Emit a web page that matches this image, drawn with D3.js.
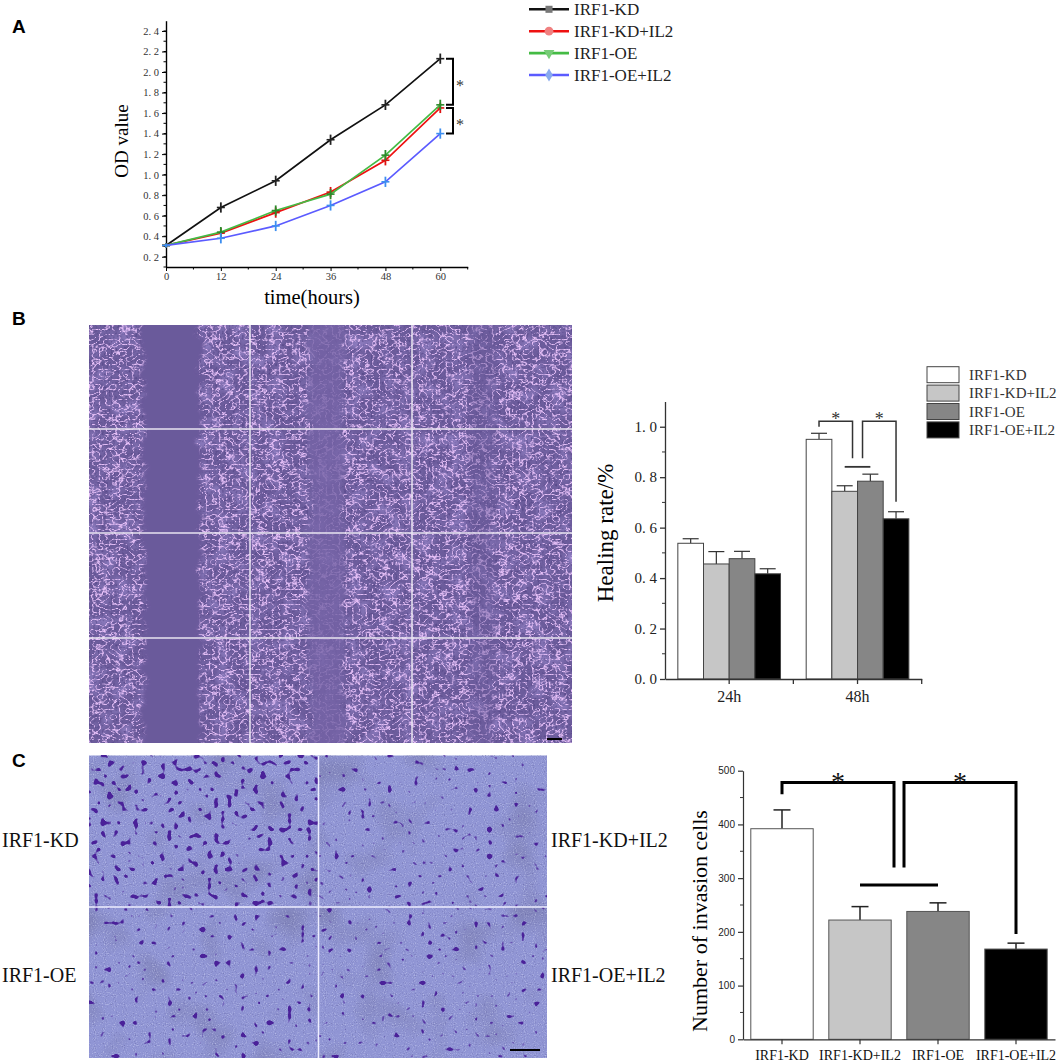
<!DOCTYPE html>
<html>
<head>
<meta charset="utf-8">
<title>IRF1 proliferation, migration and invasion</title>
<script src="https://cdn.jsdelivr.net/npm/d3@7"></script>
<style>
  body { margin: 0; background: #fff; }
  svg { display: block; }
</style>
</head>
<body>
<div id="fig"></div>
<script>
// ---- data ----
var groups = ["IRF1-KD", "IRF1-KD+IL2", "IRF1-OE", "IRF1-OE+IL2"];

// A: CCK-8 OD values
var timeHours = [0, 12, 24, 36, 48, 60];
var odKD     = [0.31, 0.68, 0.94, 1.34, 1.68, 2.13];
var odKDIL2  = [0.31, 0.43, 0.63, 0.83, 1.14, 1.65];
var odOE     = [0.31, 0.44, 0.65, 0.81, 1.19, 1.68];
var odOEIL2  = [0.31, 0.38, 0.50, 0.70, 0.93, 1.40];
var odErr    = [0.02, 0.05, 0.05, 0.05, 0.05, 0.05];
var odTicks  = [0.2, 0.4, 0.6, 0.8, 1.0, 1.2, 1.4, 1.6, 1.8, 2.0, 2.2, 2.4];

// B: healing rate
var healTimes = ["24h", "48h"];
var heal24    = [0.538, 0.456, 0.477, 0.417];
var heal24Err = [0.018, 0.049, 0.029, 0.020];
var heal48    = [0.950, 0.744, 0.784, 0.635];
var heal48Err = [0.024, 0.022, 0.028, 0.028];
var healTicks = [0.0, 0.2, 0.4, 0.6, 0.8, 1.0];

// C: invasion cell counts
var invasion    = [392, 222, 238, 168];
var invasionErr = [35, 25, 16, 11];
var invTicks    = [0, 100, 200, 300, 400, 500];

var barFill = ["#ffffff", "#c6c6c6", "#868686", "#000000"];

var SERIF = "'Liberation Serif', 'DejaVu Serif', serif";
var SANS = "'Liberation Sans', Arial, sans-serif";
// "2. 4" style of the original tick labels
var spaced = function(d) { return d.toFixed(1).replace(".", ". "); };

var svg = d3.select("#fig").append("svg")
    .attr("width", 1059).attr("height", 1062);
var defs = svg.append("defs");

// panel letters
[["A", 33], ["B", 325], ["C", 767]].forEach(function(p) {
    svg.append("text").attr("x", 12).attr("y", p[1])
        .style("font-family", SANS).attr("font-weight", "bold").attr("font-size", 19)
        .text(p[0]);
});

// =================== A ===================
var xA = d3.scaleLinear().domain([0, 66]).range([166, 467.7]);
var yA = d3.scaleLinear().domain([0.1, 2.5]).range([267, 20.7]);
var gA = svg.append("g");

gA.append("g")
    .attr("transform", "translate(" + xA(0) + ",0)")
    .call(d3.axisLeft(yA).tickValues(odTicks).tickSize(4).tickSizeOuter(0).tickFormat(spaced))
    .call(function(g) {
        g.select(".domain").attr("stroke-width", 1.4);
        g.selectAll("text").style("font-family", SERIF).attr("font-size", 10.5).attr("fill", "#333");
    });
gA.append("g").selectAll("line")
    .data(d3.range(1, 25).map(function(i) { return i * 0.1; }))
    .join("line")
    .attr("x1", xA(0)).attr("x2", xA(0) - 2.5)
    .attr("y1", function(d) { return yA(d); }).attr("y2", function(d) { return yA(d); })
    .attr("stroke", "#000");

gA.append("g")
    .attr("transform", "translate(0," + yA(0.1) + ")")
    .call(d3.axisBottom(xA).tickValues(timeHours).tickSize(4).tickSizeOuter(0))
    .call(function(g) {
        g.select(".domain").attr("stroke-width", 1.4);
        g.selectAll("text").style("font-family", SERIF).attr("font-size", 10.5).attr("fill", "#333").attr("dy", "0.6em");
    });
gA.append("g").selectAll("line")
    .data([6, 18, 30, 42, 54, 66])
    .join("line")
    .attr("x1", function(d) { return xA(d); }).attr("x2", function(d) { return xA(d); })
    .attr("y1", yA(0.1)).attr("y2", yA(0.1) + 2.5)
    .attr("stroke", "#000");

gA.append("text").style("font-family", SERIF).attr("font-size", 19)
    .attr("text-anchor", "middle")
    .attr("transform", "translate(128,141) rotate(-90)")
    .text("OD value");
gA.append("text").style("font-family", SERIF).attr("font-size", 20.5)
    .attr("text-anchor", "middle")
    .attr("x", 312).attr("y", 304)
    .text("time(hours)");

var seriesA = [
    { name: groups[0], values: odKD,    line: "#111111", err: "#222222", mark: "#777777", shape: d3.symbolSquare },
    { name: groups[1], values: odKDIL2, line: "#ee1111", err: "#dd1111", mark: "#f08080", shape: d3.symbolCircle },
    { name: groups[2], values: odOE,    line: "#44bb44", err: "#2b8a2b", mark: "#77cc77", shape: d3.symbolTriangle },
    { name: groups[3], values: odOEIL2, line: "#5b5bff", err: "#3d8ef0", mark: "#88aaee", shape: d3.symbolDiamond }
];

var lineA = d3.line()
    .x(function(d, i) { return xA(timeHours[i]); })
    .y(function(d) { return yA(d); });

seriesA.forEach(function(s) {
    gA.append("path").datum(s.values)
        .attr("d", lineA).attr("fill", "none")
        .attr("stroke", s.line).attr("stroke-width", 1.7);
    var pts = gA.append("g").selectAll("g")
        .data(s.values).join("g")
        .attr("transform", function(d, i) { return "translate(" + xA(timeHours[i]) + "," + yA(d) + ")"; });
    pts.append("line")
        .attr("x1", 0).attr("x2", 0)
        .attr("y1", function(d, i) { return yA(d - odErr[i]) - yA(d); })
        .attr("y2", function(d, i) { return yA(d + odErr[i]) - yA(d); })
        .attr("stroke", s.err).attr("stroke-width", 1.8);
    pts.append("line")
        .attr("x1", -4).attr("x2", 4).attr("y1", 0).attr("y2", 0)
        .attr("stroke", s.err).attr("stroke-width", 1.6);
});

// significance brackets at 60 h
var last = timeHours.length - 1;
[[odKD[last], odOE[last]], [odKDIL2[last], odOEIL2[last]]].forEach(function(p) {
    var y1 = yA(p[0]), y2 = yA(p[1]);
    gA.append("path")
        .attr("d", "M446," + y1 + "H453V" + y2 + "H446")
        .attr("fill", "none").attr("stroke", "#000").attr("stroke-width", 2);
    gA.append("text").style("font-family", SERIF).attr("font-size", 16).attr("fill", "#333")
        .attr("x", 456).attr("y", (y1 + y2) / 2 + 9).text("*");
});

// legend A
var legA = svg.append("g").selectAll("g")
    .data(seriesA).join("g")
    .attr("transform", function(d, i) { return "translate(529," + (9.3 + i * 21.9) + ")"; });
legA.append("line").attr("x1", 0).attr("x2", 40)
    .attr("stroke", function(d) { return d.line; }).attr("stroke-width", 2.6);
legA.append("path")
    .attr("transform", function(d) { return "translate(20,0)" + (d.shape === d3.symbolTriangle ? " rotate(180)" : ""); })
    .attr("d", function(d) { return d3.symbol().type(d.shape).size(d.shape === d3.symbolCircle ? 60 : 50)(); })
    .attr("fill", function(d) { return d.mark; });
legA.append("text").style("font-family", SERIF).attr("font-size", 17)
    .attr("x", 45).attr("dy", "0.35em").attr("fill", "#222")
    .text(function(d) { return d.name; });

// =================== B: scratch images ===================
var fCells = defs.append("filter").attr("id", "cells")
    .attr("x", 0).attr("y", 0).attr("width", 1).attr("height", 1)
    .attr("color-interpolation-filters", "sRGB");
fCells.append("feTurbulence").attr("type", "turbulence")
    .attr("baseFrequency", "0.15 0.2").attr("numOctaves", 2).attr("seed", 4).attr("result", "t");
fCells.append("feColorMatrix").attr("in", "t").attr("type", "matrix")
    .attr("values", "0 0 0 0 0.9  0 0 0 0 0.75  0 0 0 0 0.97  -6 0 0 0 1.2")
    .attr("result", "veins0");
fCells.append("feGaussianBlur").attr("in", "veins0").attr("stdDeviation", 0.3).attr("result", "veins");
fCells.append("feTurbulence").attr("type", "fractalNoise")
    .attr("baseFrequency", "0.06").attr("numOctaves", 2).attr("seed", 15).attr("result", "m");
fCells.append("feColorMatrix").attr("in", "m").attr("type", "matrix")
    .attr("values", "0 0 0 0 0.62  0 0 0 0 0.55  0 0 0 0 0.82  1.6 0 0 0 -0.7")
    .attr("result", "haze");
fCells.append("feTurbulence").attr("type", "fractalNoise")
    .attr("baseFrequency", "0.45").attr("numOctaves", 1).attr("seed", 9).attr("result", "n");
fCells.append("feColorMatrix").attr("in", "n").attr("type", "matrix")
    .attr("values", "0 0 0 0 0.3  0 0 0 0 0.24  0 0 0 0 0.5  2.5 0 0 0 -1.35")
    .attr("result", "dark");
var mCells = fCells.append("feMerge");
mCells.append("feMergeNode").attr("in", "SourceGraphic");
mCells.append("feMergeNode").attr("in", "haze");
mCells.append("feMergeNode").attr("in", "dark");
mCells.append("feMergeNode").attr("in", "veins");

// cell-free scratch: soft, ragged edges
var fGap = defs.append("filter").attr("id", "gap")
    .attr("filterUnits", "userSpaceOnUse")
    .attr("x", 80).attr("y", 300).attr("width", 500).attr("height", 460);
fGap.append("feTurbulence").attr("type", "fractalNoise")
    .attr("baseFrequency", "0.04 0.08").attr("numOctaves", 3).attr("seed", 2).attr("result", "w");
fGap.append("feDisplacementMap").attr("in", "SourceGraphic").attr("in2", "w")
    .attr("scale", 18).attr("xChannelSelector", "R").attr("yChannelSelector", "G").attr("result", "d");
fGap.append("feGaussianBlur").attr("in", "d").attr("stdDeviation", 1.5);

var woundCols = [89, 250, 412, 572];
var woundRows = [325, 429, 533, 638, 743];
// scratch gap (fraction of each column) and its visibility
var woundGaps = [[0.34, 0.69, 1.0], [0.36, 0.58, 0.8], [0.36, 0.52, 0.45]];

var gW = svg.append("g");
defs.append("clipPath").attr("id", "woundClip").append("rect")
    .attr("x", woundCols[0]).attr("y", woundRows[0])
    .attr("width", woundCols[3] - woundCols[0]).attr("height", woundRows[4] - woundRows[0]);
var gWc = gW.append("g").attr("clip-path", "url(#woundClip)");
gWc.append("rect")
    .attr("x", woundCols[0]).attr("y", woundRows[0])
    .attr("width", woundCols[3] - woundCols[0]).attr("height", woundRows[4] - woundRows[0])
    .attr("fill", "#6c5c9c").attr("filter", "url(#cells)");
woundGaps.forEach(function(gp, c) {
    var w = woundCols[c + 1] - woundCols[c];
    gWc.append("rect")
        .attr("x", woundCols[c] + gp[0] * w).attr("y", woundRows[0] - 10)
        .attr("width", (gp[1] - gp[0]) * w).attr("height", woundRows[4] - woundRows[0] + 20)
        .attr("fill", c === 1 ? "#7464a6" : "#6a5a9b").attr("opacity", gp[2])
        .attr("filter", "url(#gap)");
});
gW.append("g").selectAll("line")
    .data(woundRows.slice(1, 4)).join("line")
    .attr("x1", woundCols[0]).attr("x2", woundCols[3])
    .attr("y1", function(d) { return d; }).attr("y2", function(d) { return d; })
    .attr("stroke", "#e8e4f0").attr("stroke-width", 1.5);
gW.append("g").selectAll("line")
    .data(woundCols.slice(1, 3)).join("line")
    .attr("x1", function(d) { return d; }).attr("x2", function(d) { return d; })
    .attr("y1", woundRows[0]).attr("y2", woundRows[4])
    .attr("stroke", "#e8e4f0").attr("stroke-width", 1.5);
gW.append("line").attr("x1", 547).attr("x2", 562).attr("y1", 739).attr("y2", 739)
    .attr("stroke", "#000").attr("stroke-width", 2);

// =================== B: healing rate chart ===================
var xB = d3.scaleBand().domain(healTimes).range([665, 921.7]);
var xBi = d3.scaleBand().domain(groups).range([0, xB.bandwidth()]).paddingOuter(0.5);
var yB = d3.scaleLinear().domain([0, 1.1]).range([679, 401.5]);
var gB = svg.append("g");

var healRows = [
    { t: healTimes[0], v: heal24, e: heal24Err },
    { t: healTimes[1], v: heal48, e: heal48Err }
];
healRows.forEach(function(r) {
    var gg = gB.append("g").attr("transform", "translate(" + xB(r.t) + ",0)");
    var cells = gg.selectAll("g").data(groups).join("g");
    cells.append("line")
        .attr("x1", function(d) { return xBi(d) + xBi.bandwidth() / 2; })
        .attr("x2", function(d) { return xBi(d) + xBi.bandwidth() / 2; })
        .attr("y1", function(d, i) { return yB(r.v[i]); })
        .attr("y2", function(d, i) { return yB(r.v[i] + r.e[i]); })
        .attr("stroke", "#333").attr("stroke-width", 1.2);
    cells.append("line")
        .attr("x1", function(d) { return xBi(d) + xBi.bandwidth() / 2 - 8; })
        .attr("x2", function(d) { return xBi(d) + xBi.bandwidth() / 2 + 8; })
        .attr("y1", function(d, i) { return yB(r.v[i] + r.e[i]); })
        .attr("y2", function(d, i) { return yB(r.v[i] + r.e[i]); })
        .attr("stroke", "#333").attr("stroke-width", 1.2);
    cells.append("rect")
        .attr("x", function(d) { return xBi(d); })
        .attr("width", xBi.bandwidth())
        .attr("y", function(d, i) { return yB(r.v[i]); })
        .attr("height", function(d, i) { return yB(0) - yB(r.v[i]); })
        .attr("fill", function(d, i) { return barFill[i]; })
        .attr("stroke", "#444").attr("stroke-width", 1);
});

gB.append("g")
    .attr("transform", "translate(665,0)")
    .call(d3.axisLeft(yB).tickValues(healTicks).tickSize(5).tickSizeOuter(0).tickFormat(spaced))
    .call(function(g) {
        g.selectAll("path,line").attr("stroke", "#333").attr("stroke-width", 1.3);
        g.selectAll("text").style("font-family", SERIF).attr("font-size", 15).attr("fill", "#222");
    });
gB.append("g").selectAll("line")
    .data([0.1, 0.3, 0.5, 0.7, 0.9]).join("line")
    .attr("x1", 665).attr("x2", 662)
    .attr("y1", function(d) { return yB(d); }).attr("y2", function(d) { return yB(d); })
    .attr("stroke", "#333");
gB.append("g")
    .attr("transform", "translate(0," + yB(0) + ")")
    .call(d3.axisBottom(xB).tickSize(5).tickSizeOuter(0))
    .call(function(g) {
        g.selectAll("path,line").attr("stroke", "#333").attr("stroke-width", 1.3);
        g.selectAll("text").style("font-family", SERIF).attr("font-size", 16).attr("fill", "#222").attr("dy", "0.95em");
    });
gB.append("g").selectAll("line")
    .data([xB(healTimes[1]), xB(healTimes[1]) + xB.bandwidth()]).join("line")
    .attr("x1", function(d) { return d; }).attr("x2", function(d) { return d; })
    .attr("y1", yB(0)).attr("y2", yB(0) + 5)
    .attr("stroke", "#333").attr("stroke-width", 1.3);

gB.append("text").style("font-family", SERIF).attr("font-size", 23)
    .attr("text-anchor", "middle")
    .attr("transform", "translate(613,533) rotate(-90)")
    .text("Healing rate/%");

// brackets over 48h
var x48 = xB(healTimes[1]);
var bc = function(i) { return x48 + xBi(groups[i]) + xBi.bandwidth() / 2; };
var mid = x48 + xBi(groups[2]);
gB.append("path")
    .attr("d", "M" + bc(0) + "," + yB(1.0) + "V" + yB(1.022) + "H" + (mid - 5) + "V" + yB(0.875))
    .attr("fill", "none").attr("stroke", "#333").attr("stroke-width", 1.5);
gB.append("path")
    .attr("d", "M" + (mid + 5) + "," + yB(0.875) + "V" + yB(1.022) + "H" + bc(3) + "V" + yB(0.703))
    .attr("fill", "none").attr("stroke", "#333").attr("stroke-width", 1.5);
gB.append("line")
    .attr("x1", bc(1)).attr("x2", bc(2)).attr("y1", yB(0.841)).attr("y2", yB(0.841))
    .attr("stroke", "#333").attr("stroke-width", 1.8);
[(bc(0) + mid - 5) / 2, (mid + 5 + bc(3)) / 2].forEach(function(x) {
    gB.append("text").style("font-family", SERIF).attr("font-size", 18).attr("fill", "#333")
        .attr("text-anchor", "middle").attr("x", x).attr("y", yB(1.022) + 4).text("*");
});

// legend B
var legB = svg.append("g").selectAll("g")
    .data(groups).join("g")
    .attr("transform", function(d, i) { return "translate(927," + (366.7 + i * 18.4) + ")"; });
legB.append("rect").attr("width", 32).attr("height", 16)
    .attr("fill", function(d, i) { return barFill[i]; })
    .attr("stroke", "#444").attr("stroke-width", 1);
legB.append("text").style("font-family", SERIF).attr("font-size", 15).attr("fill", "#333")
    .attr("x", 42).attr("y", 8).attr("dy", "0.35em")
    .text(function(d) { return d; });

// =================== C: transwell images ===================
var transCols = [89, 318.5, 547];
var transRows = [755.5, 907, 1058];
// blob threshold per image (lower = more stained cells)
var transDensity = [0.62, 0.675, 0.665, 0.68];
var gT = svg.append("g");
groups.forEach(function(name, i) {
    var c = i % 2, r = Math.floor(i / 2);
    var f = defs.append("filter").attr("id", "trans" + i)
        .attr("x", 0).attr("y", 0).attr("width", 1).attr("height", 1)
        .attr("color-interpolation-filters", "sRGB");
    f.append("feTurbulence").attr("type", "fractalNoise")
        .attr("baseFrequency", "0.9").attr("numOctaves", 1).attr("seed", 11 + i).attr("result", "g");
    f.append("feColorMatrix").attr("in", "g").attr("type", "matrix")
        .attr("values", "0 0 0 0 0.9  0 0 0 0 0.92  0 0 0 0 1  1.5 0 0 0 -0.82")
        .attr("result", "light");
    f.append("feColorMatrix").attr("in", "g").attr("type", "matrix")
        .attr("values", "0 0 0 0 0.38  0 0 0 0 0.38  0 0 0 0 0.62  -2.2 0 0 0 0.9")
        .attr("result", "shade");
    f.append("feTurbulence").attr("type", "fractalNoise")
        .attr("baseFrequency", "0.02").attr("numOctaves", 2).attr("seed", 21 + i).attr("result", "p");
    f.append("feColorMatrix").attr("in", "p").attr("type", "matrix")
        .attr("values", "0 0 0 0 0.42  0 0 0 0 0.42  0 0 0 0 0.58  1.2 0 0 0 -0.62")
        .attr("result", "patch");
    f.append("feTurbulence").attr("type", "fractalNoise")
        .attr("baseFrequency", "0.15").attr("numOctaves", 1).attr("seed", 3 + i * 5).attr("result", "b");
    f.append("feColorMatrix").attr("in", "b").attr("type", "matrix")
        .attr("values", "0 0 0 0 0.29  0 0 0 0 0.13  0 0 0 0 0.6  16 0 0 0 " + (-16 * transDensity[i]))
        .attr("result", "blobs");
    var m = f.append("feMerge");
    m.append("feMergeNode").attr("in", "SourceGraphic");
    m.append("feMergeNode").attr("in", "patch");
    m.append("feMergeNode").attr("in", "shade");
    m.append("feMergeNode").attr("in", "light");
    m.append("feMergeNode").attr("in", "blobs");
    gT.append("rect")
        .attr("x", transCols[c]).attr("y", transRows[r])
        .attr("width", transCols[c + 1] - transCols[c]).attr("height", transRows[r + 1] - transRows[r])
        .attr("fill", "#9095d4").attr("filter", "url(#trans" + i + ")");
});
gT.append("line").attr("x1", transCols[1]).attr("x2", transCols[1])
    .attr("y1", transRows[0]).attr("y2", transRows[2]).attr("stroke", "#eef").attr("stroke-width", 1.5);
gT.append("line").attr("x1", transCols[0]).attr("x2", transCols[2])
    .attr("y1", transRows[1]).attr("y2", transRows[1]).attr("stroke", "#eef").attr("stroke-width", 1.5);
gT.append("line").attr("x1", 510).attr("x2", 540).attr("y1", 1050).attr("y2", 1050)
    .attr("stroke", "#000").attr("stroke-width", 2);

gT.append("g").selectAll("text")
    .data(groups).join("text")
    .style("font-family", SERIF).attr("font-size", 20).attr("fill", "#111")
    .attr("x", function(d, i) { return i % 2 === 0 ? 2 : 551; })
    .attr("y", function(d, i) { return i < 2 ? 840 : 975; })
    .attr("dy", "0.35em")
    .text(function(d) { return d; });

// =================== C: invasion chart ===================
var xC = d3.scaleBand().domain(groups).range([743, 1055]).paddingInner(0.2).paddingOuter(0.1);
var yC = d3.scaleLinear().domain([0, 500]).range([1039.3, 770.7]);
var gC = svg.append("g");

var barsC = gC.selectAll("g.bar").data(groups).join("g").attr("class", "bar");
barsC.append("line")
    .attr("x1", function(d) { return xC(d) + xC.bandwidth() / 2; })
    .attr("x2", function(d) { return xC(d) + xC.bandwidth() / 2; })
    .attr("y1", function(d, i) { return yC(invasion[i]); })
    .attr("y2", function(d, i) { return yC(invasion[i] + invasionErr[i]); })
    .attr("stroke", "#222").attr("stroke-width", 1.5);
barsC.append("line")
    .attr("x1", function(d) { return xC(d) + xC.bandwidth() / 2 - 8.5; })
    .attr("x2", function(d) { return xC(d) + xC.bandwidth() / 2 + 8.5; })
    .attr("y1", function(d, i) { return yC(invasion[i] + invasionErr[i]); })
    .attr("y2", function(d, i) { return yC(invasion[i] + invasionErr[i]); })
    .attr("stroke", "#222").attr("stroke-width", 1.5);
barsC.append("rect")
    .attr("x", function(d) { return xC(d); })
    .attr("width", xC.bandwidth())
    .attr("y", function(d, i) { return yC(invasion[i]); })
    .attr("height", function(d, i) { return yC(0) - yC(invasion[i]); })
    .attr("fill", function(d, i) { return barFill[i]; })
    .attr("stroke", "#555").attr("stroke-width", 1);

gC.append("g")
    .attr("transform", "translate(743,0)")
    .call(d3.axisLeft(yC).tickValues(invTicks).tickSize(5).tickSizeOuter(0))
    .call(function(g) {
        g.selectAll("path,line").attr("stroke", "#333").attr("stroke-width", 1.2);
        g.selectAll("text").style("font-family", SANS).attr("font-size", 10).attr("fill", "#222");
    });
gC.append("g").selectAll("line")
    .data([50, 150, 250, 350, 450]).join("line")
    .attr("x1", 743).attr("x2", 740)
    .attr("y1", function(d) { return yC(d); }).attr("y2", function(d) { return yC(d); })
    .attr("stroke", "#333");
gC.append("g")
    .attr("transform", "translate(0," + yC(0) + ")")
    .call(d3.axisBottom(xC).tickSize(5).tickSizeOuter(0))
    .call(function(g) {
        g.selectAll("path,line").attr("stroke", "#333").attr("stroke-width", 1.2);
        g.selectAll("text").style("font-family", SERIF).attr("font-size", 14).attr("fill", "#111").attr("dy", "0.9em");
    });

gC.append("text").style("font-family", SERIF).attr("font-size", 22)
    .attr("text-anchor", "middle")
    .attr("transform", "translate(707,921) rotate(-90)")
    .text("Number of invasion cells");

var cc = function(i) { return xC(groups[i]) + xC.bandwidth() / 2; };
var midC = (xC(groups[1]) + xC.bandwidth() + xC(groups[2])) / 2;
gC.append("path")
    .attr("d", "M" + cc(0) + "," + yC(456) + "V" + yC(478) + "H" + (midC - 5) + "V" + yC(320))
    .attr("fill", "none").attr("stroke", "#000").attr("stroke-width", 3);
gC.append("path")
    .attr("d", "M" + (midC + 5) + "," + yC(320) + "V" + yC(478) + "H" + cc(3) + "V" + yC(196))
    .attr("fill", "none").attr("stroke", "#000").attr("stroke-width", 3);
gC.append("line")
    .attr("x1", cc(1)).attr("x2", cc(2)).attr("y1", yC(287)).attr("y2", yC(287))
    .attr("stroke", "#000").attr("stroke-width", 3);
[(cc(0) + midC - 5) / 2, (midC + 5 + cc(3)) / 2].forEach(function(x) {
    gC.append("text").style("font-family", SERIF).attr("font-size", 28).attr("fill", "#111")
        .attr("text-anchor", "middle").attr("x", x).attr("y", yC(478) + 8).text("*");
});
</script>
</body>
</html>
